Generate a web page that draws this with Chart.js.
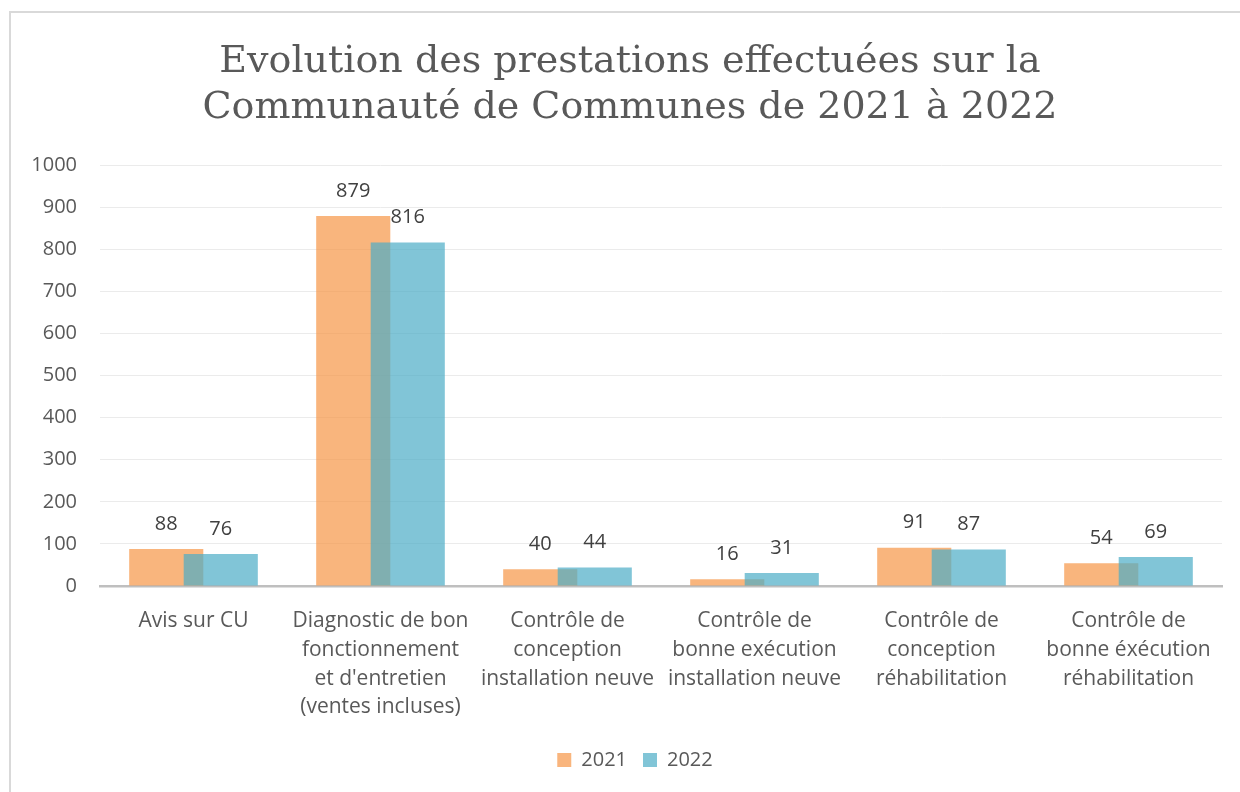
<!DOCTYPE html>
<html lang="fr">
<head>
<meta charset="utf-8">
<script src="https://cdn.jsdelivr.net/npm/chart.js@4"></script>
<style>
  html, body { margin: 0; padding: 0; background: #ffffff; }
  #wrap { position: relative; width: 1240px; height: 792px; }
</style>
</head>
<body>
<div id="wrap"><canvas id="chart" width="1240" height="792"></canvas></div>
<script>
// Données
const categories = [
    'Avis sur CU',
    ['Diagnostic de bon', 'fonctionnement', "et d'entretien", '(ventes incluses)'],
    ['Contrôle de', 'conception', 'installation neuve'],
    ['Contrôle de', 'bonne exécution', 'installation neuve'],
    ['Contrôle de', 'conception', 'réhabilitation'],
    ['Contrôle de', 'bonne éxécution', 'réhabilitation']
];
const values2021 = [88, 879, 40, 16, 91, 54];
const values2022 = [76, 816, 44, 31, 87, 69];
const seriesLabels = ['2021', '2022'];
const yTicks = [0, 100, 200, 300, 400, 500, 600, 700, 800, 900, 1000];
const titleLines = ['Evolution des prestations effectuées sur la', 'Communauté de Communes de 2021 à 2022'];

const textColor = '#595959';
const bodyFont = 'Open Sans';

// Cadre gris clair + titre (dessiné à la main)
const framePlugin = {
    id: 'frame',
    afterLayout(chart) {
        // légende centrée sur le cadre, pas sur la zone du graphique
        chart.legend.left += 24;
        chart.legend.right += 24;
    },
    beforeDraw(chart) {
        const ctx = chart.ctx;
        ctx.save();
        ctx.strokeStyle = '#d9d9d9';
        ctx.lineWidth = 2;
        ctx.beginPath();
        ctx.moveTo(10, 792);
        ctx.lineTo(10, 12);
        ctx.lineTo(1240, 12);
        ctx.stroke();

        ctx.font = '38px "DejaVu Serif"';
        ctx.fillStyle = textColor;
        ctx.textAlign = 'center';
        ctx.textBaseline = 'middle';
        titleLines.forEach((line, i) => {
            ctx.fillText(line, 630, 62 + i * 46);
        });
        ctx.restore();
    }
};

// Dessine les séries dans l'ordre (2022 par-dessus 2021), puis les valeurs
const barsPlugin = {
    id: 'barsInOrder',
    beforeDatasetsDraw(chart) {
        const ctx = chart.ctx;
        const area = chart.chartArea;
        ctx.save();
        ctx.beginPath();
        ctx.rect(area.left, area.top - 60, area.right - area.left, area.bottom - area.top + 60);
        ctx.clip();
        chart.data.datasets.forEach((ds, i) => {
            chart.getDatasetMeta(i).controller.draw();
        });
        ctx.restore();

        ctx.save();
        ctx.font = '20px "' + bodyFont + '"';
        ctx.fillStyle = '#404040';
        ctx.textAlign = 'center';
        ctx.textBaseline = 'middle';
        chart.data.datasets.forEach((ds, i) => {
            const meta = chart.getDatasetMeta(i);
            meta.data.forEach((bar, j) => {
                ctx.fillText(String(ds.data[j]), bar.x, bar.y - 25);
            });
        });
        ctx.restore();
        return false;
    }
};

new Chart(document.getElementById('chart'), {
    type: 'bar',
    data: {
        labels: categories,
        datasets: [
            {
                label: seriesLabels[0],
                data: values2021,
                backgroundColor: 'rgba(247, 150, 70, 0.7)',
                barPercentage: 1.36,
                categoryPercentage: 0.583
            },
            {
                label: seriesLabels[1],
                data: values2022,
                backgroundColor: 'rgba(75, 172, 198, 0.7)',
                barPercentage: 1.36,
                categoryPercentage: 0.583
            }
        ]
    },
    options: {
        responsive: false,
        animation: false,
        layout: { padding: { left: 0, right: 18, top: 165, bottom: 12 } },
        scales: {
            x: {
                grid: { display: false },
                border: { display: true, color: '#bfbfbf', width: 2.5 },
                ticks: {
                    color: textColor,
                    font: { family: bodyFont, size: 21, lineHeight: 1.38 },
                    padding: 12,
                    maxRotation: 0,
                    autoSkip: false
                }
            },
            y: {
                min: 0,
                max: 1000,
                afterBuildTicks(scale) {
                    scale.ticks = yTicks.map(v => ({ value: v }));
                },
                afterFit(scale) { scale.width = 100; },
                grid: {
                    color: ctx => ctx.tick && ctx.tick.value === 0 ? 'rgba(0,0,0,0)' : '#ebebeb',
                    lineWidth: 1,
                    drawTicks: false
                },
                border: { display: false },
                ticks: {
                    color: textColor,
                    font: { family: bodyFont, size: 20 },
                    padding: 23,
                    callback: v => String(v)
                }
            }
        },
        plugins: {
            title: { display: false },
            legend: {
                position: 'bottom',
                labels: {
                    color: textColor,
                    font: { family: bodyFont, size: 20 },
                    boxWidth: 14,
                    boxHeight: 14,
                    padding: 16
                }
            },
            tooltip: { enabled: false }
        }
    },
    plugins: [framePlugin, barsPlugin]
});
</script>
</body>
</html>
